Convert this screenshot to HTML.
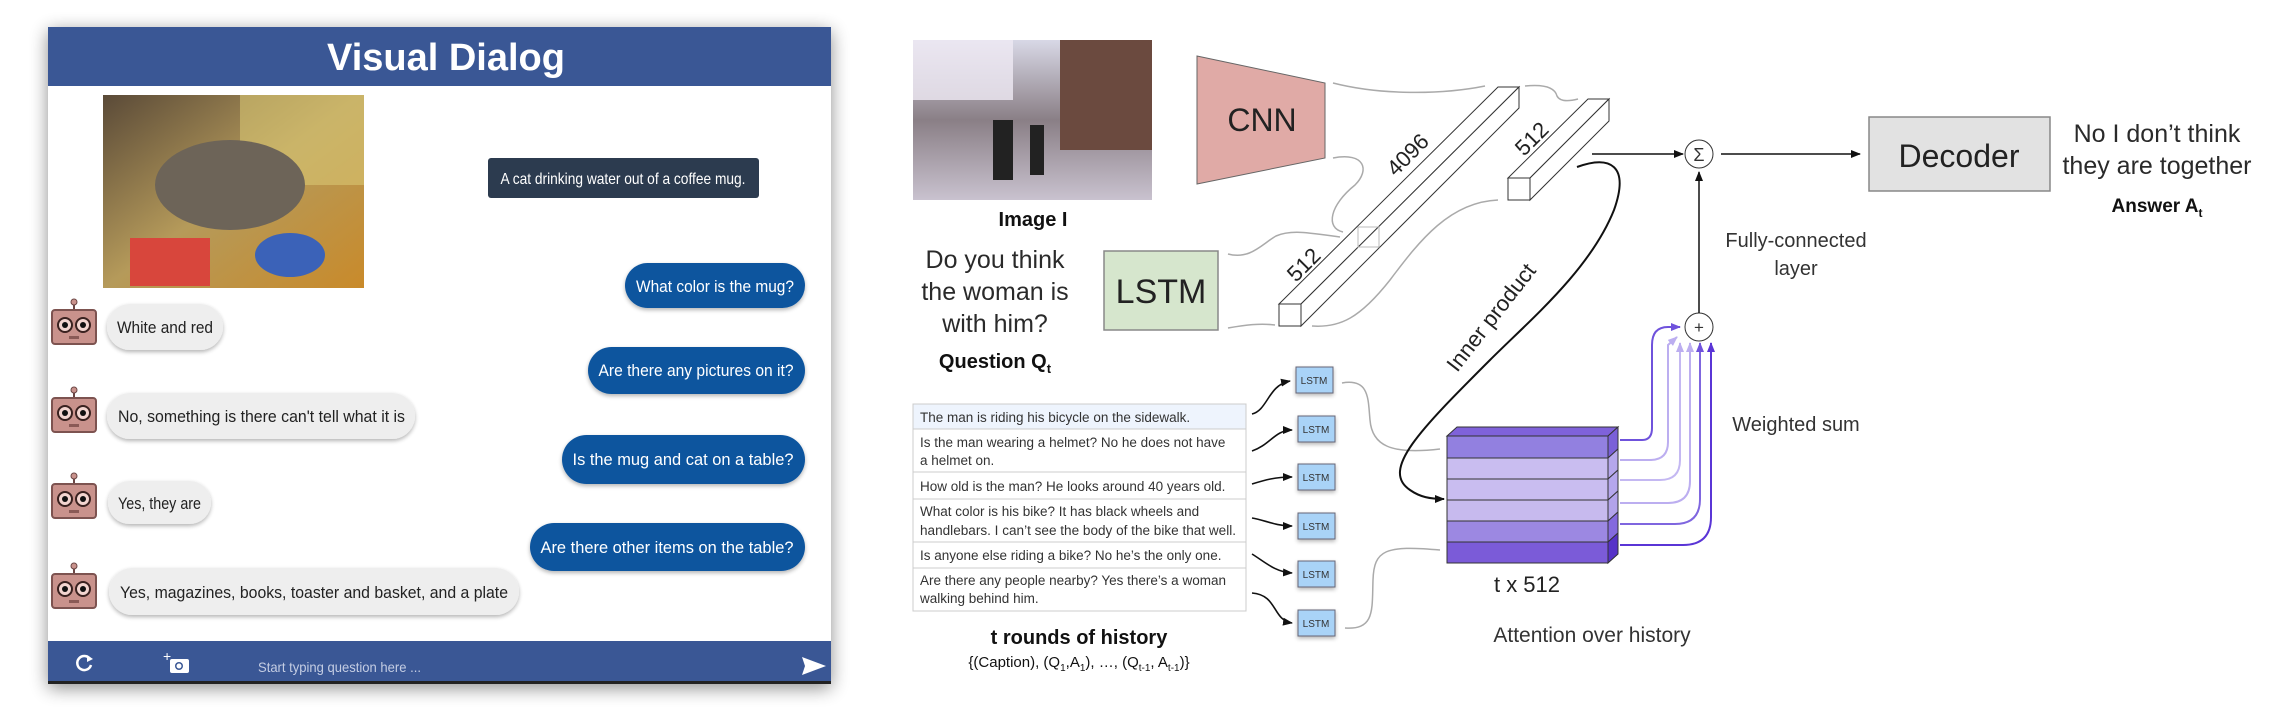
<!DOCTYPE html>
<html><head><meta charset="utf-8"><style>
html,body{margin:0;padding:0;background:#fff;}
svg{display:block;font-family:"Liberation Sans",sans-serif;}
</style></head><body>
<svg width="2272" height="716" viewBox="0 0 2272 716" xmlns="http://www.w3.org/2000/svg">
<defs>
<filter id="sh" x="-10%" y="-10%" width="120%" height="120%"><feGaussianBlur in="SourceAlpha" stdDeviation="9"/><feOffset dy="4"/><feComponentTransfer><feFuncA type="linear" slope="0.45"/></feComponentTransfer><feMerge><feMergeNode/><feMergeNode in="SourceGraphic"/></feMerge></filter>
<filter id="bs" x="-10%" y="-20%" width="120%" height="150%"><feGaussianBlur in="SourceAlpha" stdDeviation="2"/><feOffset dy="2"/><feComponentTransfer><feFuncA type="linear" slope="0.3"/></feComponentTransfer><feMerge><feMergeNode/><feMergeNode in="SourceGraphic"/></feMerge></filter>
<marker id="ab" markerWidth="10" markerHeight="8" refX="9" refY="4" orient="auto" markerUnits="userSpaceOnUse"><path d="M0,0 L10,4 L0,8 z" fill="#111"/></marker>
<marker id="p1" markerWidth="10" markerHeight="8" refX="9" refY="4" orient="auto" markerUnits="userSpaceOnUse"><path d="M0,0 L10,4 L0,8 z" fill="#6f52dc"/></marker>
<marker id="p2" markerWidth="10" markerHeight="8" refX="9" refY="4" orient="auto" markerUnits="userSpaceOnUse"><path d="M0,0 L10,4 L0,8 z" fill="#bcaef0"/></marker>
<marker id="p3" markerWidth="10" markerHeight="8" refX="9" refY="4" orient="auto" markerUnits="userSpaceOnUse"><path d="M0,0 L10,4 L0,8 z" fill="#5a35d6"/></marker>
<linearGradient id="cat" x1="0" y1="0" x2="1" y2="1"><stop offset="0" stop-color="#5a4a38"/><stop offset="0.5" stop-color="#b59a5a"/><stop offset="1" stop-color="#c98a2a"/></linearGradient>
<linearGradient id="st" x1="0" y1="0" x2="0" y2="1"><stop offset="0" stop-color="#d8d8e6"/><stop offset="0.5" stop-color="#8a7f86"/><stop offset="1" stop-color="#c9c2cf"/></linearGradient>
<g id="robot"><line x1="75" y1="-14" x2="75" y2="-8" stroke="#6b4745" stroke-width="2"/><circle cx="75" cy="-16" r="3" fill="#c9928c" stroke="#6b4745"/><rect x="53" y="-8" width="44" height="34" rx="3" fill="#c9928c" stroke="#7d5350" stroke-width="2"/><circle cx="66" cy="7" r="7" fill="#f3d5d0" stroke="#3a2220" stroke-width="2"/><circle cx="66" cy="7" r="3" fill="#111"/><circle cx="84" cy="7" r="7" fill="#f3d5d0" stroke="#3a2220" stroke-width="2"/><circle cx="84" cy="7" r="3" fill="#111"/><rect x="70" y="18" width="10" height="3" fill="#8a5a56"/></g>
</defs>

<!-- LEFT PANEL -->
<g filter="url(#sh)"><rect x="48" y="27" width="783" height="657" fill="#fff"/></g>
<rect x="48" y="27" width="783" height="59" fill="#3a5795"/>
<text x="446" y="70" font-size="38" font-weight="bold" fill="#fff" text-anchor="middle">Visual Dialog</text>
<rect x="103" y="95" width="261" height="193" fill="url(#cat)"/>
<rect x="240" y="95" width="124" height="90" fill="#d9c773" opacity="0.6"/>
<ellipse cx="230" cy="185" rx="75" ry="45" fill="#6d6458"/>
<ellipse cx="290" cy="255" rx="35" ry="22" fill="#3b62b8"/>
<rect x="130" y="238" width="80" height="48" fill="#d8463c"/>
<rect x="488" y="158" width="271" height="40" rx="3" fill="#2c3b4f"/>
<text x="623" y="184" font-size="16" fill="#fff" text-anchor="middle" textLength="245" lengthAdjust="spacingAndGlyphs">A cat drinking water out of a coffee mug.</text>
<g fill="#0b549e" filter="url(#bs)">
<rect x="625" y="263" width="180" height="45" rx="22.5"/>
<rect x="588" y="347" width="217" height="47" rx="23.5"/>
<rect x="562" y="435" width="243" height="49" rx="24.5"/>
<rect x="530" y="523" width="275" height="48" rx="24"/>
</g>
<g fill="#fff" font-size="17" text-anchor="middle">
<text x="715" y="292" textLength="158" lengthAdjust="spacingAndGlyphs">What color is the mug?</text>
<text x="696" y="376" textLength="195" lengthAdjust="spacingAndGlyphs">Are there any pictures on it?</text>
<text x="683" y="465" textLength="221" lengthAdjust="spacingAndGlyphs">Is the mug and cat on a table?</text>
<text x="667" y="553" textLength="253" lengthAdjust="spacingAndGlyphs">Are there other items on the table?</text>
</g>
<g fill="#eeeeee" filter="url(#bs)">
<rect x="107" y="304" width="116" height="46" rx="23"/>
<rect x="107" y="393" width="308" height="46" rx="23"/>
<rect x="108" y="481" width="103" height="43" rx="21.5"/>
<rect x="109" y="568" width="410" height="47" rx="23.5"/>
</g>
<g fill="#222" font-size="17">
<text x="117" y="333" textLength="96" lengthAdjust="spacingAndGlyphs">White and red</text>
<text x="118" y="422" textLength="287" lengthAdjust="spacingAndGlyphs">No, something is there can't tell what it is</text>
<text x="118" y="509" textLength="83" lengthAdjust="spacingAndGlyphs">Yes, they are</text>
<text x="120" y="598" textLength="388" lengthAdjust="spacingAndGlyphs">Yes, magazines, books, toaster and basket, and a plate</text>
</g>
<use href="#robot" transform="translate(-1,318)"/>
<use href="#robot" transform="translate(-1,406)"/>
<use href="#robot" transform="translate(-1,492)"/>
<use href="#robot" transform="translate(-1,582)"/>
<rect x="48" y="641" width="783" height="42" fill="#3a5795"/>
<rect x="48" y="681" width="783" height="3" fill="#222"/>
<path d="M90,659 A7,7 0 1 0 91,665" fill="none" stroke="#fff" stroke-width="2.5"/><path d="M87,655 L93,659 L87,662 z" fill="#fff"/>
<rect x="170" y="659" width="19" height="14" rx="2" fill="#fff"/><circle cx="179" cy="666" r="4" fill="#3a5795"/><circle cx="179" cy="666" r="2.5" fill="#fff"/><text x="163" y="661" fill="#fff" font-size="14">+</text>
<text x="258" y="672" font-size="14" fill="#c4cde3" textLength="163" lengthAdjust="spacingAndGlyphs">Start typing question here ...</text>
<path d="M802,657 L826,666 L802,675 L805,666 z" fill="#fff"/>

<!-- RIGHT DIAGRAM -->
<rect x="913" y="40" width="239" height="160" fill="url(#st)"/>
<rect x="1060" y="40" width="92" height="110" fill="#6b4a3f"/>
<rect x="913" y="40" width="100" height="60" fill="#efeaf4" opacity="0.8"/>
<rect x="993" y="120" width="20" height="60" fill="#222"/>
<rect x="1030" y="125" width="14" height="50" fill="#222"/>
<text x="1033" y="226" font-size="20" font-weight="bold" text-anchor="middle" fill="#111">Image I</text>
<g font-size="25" fill="#2a2a2a" text-anchor="middle">
<text x="995" y="268">Do you think</text>
<text x="995" y="300">the woman is</text>
<text x="995" y="332">with him?</text>
</g>
<text x="995" y="368" font-size="20" font-weight="bold" text-anchor="middle" fill="#111">Question Q<tspan font-size="13" dy="5">t</tspan></text>

<polygon points="1197,56 1325,83 1325,158 1197,184" fill="#e0aaa6" stroke="#666" stroke-width="1"/>
<text x="1262" y="131" font-size="32" text-anchor="middle" fill="#222">CNN</text>
<rect x="1104" y="251" width="114" height="79" fill="#d6e6cd" stroke="#888" stroke-width="1.5"/>
<text x="1161" y="303" font-size="34" text-anchor="middle" fill="#222">LSTM</text>

<g fill="none" stroke="#aaa" stroke-width="1.5">
<path d="M1333,83 C1380,95 1440,95 1485,86"/>
<path d="M1525,86 C1545,84 1555,88 1557,96 C1560,102 1570,101 1578,99"/>
<path d="M1333,158 C1365,152 1370,170 1355,185 C1330,205 1325,228 1343,232"/>
<path d="M1228,254 C1250,260 1262,244 1276,236 C1290,230 1305,232 1340,237"/>
<path d="M1228,328 C1245,325 1260,323 1275,325"/>
<path d="M1312,326 C1340,328 1360,318 1390,280 C1420,240 1450,202 1498,200"/>
<path d="M1342,383 C1370,378 1368,400 1370,420 C1372,445 1390,455 1440,449"/>
<path d="M1345,628 C1375,630 1372,610 1373,580 C1374,550 1385,545 1440,550"/>
</g>

<g fill="#fff" stroke="#333" stroke-width="1">
<polygon points="1279,304 1301,304 1519,87 1498,87"/>
<polygon points="1301,304 1301,326 1519,108 1519,87"/>
<rect x="1279" y="304" width="22" height="22"/>
<polygon points="1508,178 1530,178 1609,99 1588,99"/>
<polygon points="1530,178 1530,200 1609,121 1609,99"/>
<rect x="1508" y="178" width="22" height="22"/>
</g>
<rect x="1358" y="227" width="21" height="20" fill="none" stroke="#bbb" stroke-width="1"/>
<g font-size="22" fill="#222" text-anchor="middle">
<text transform="translate(1413,160) rotate(-45)">4096</text>
<text transform="translate(1309,270) rotate(-45)">512</text>
<text transform="translate(1537,144) rotate(-45)">512</text>
<text transform="translate(1497,322) rotate(-52)">Inner product</text>
</g>

<path d="M1592,154 L1683,154" stroke="#111" stroke-width="1.5" fill="none" marker-end="url(#ab)"/>
<path d="M1577,167 C1610,155 1630,165 1614,210 C1590,270 1530,320 1490,360 C1420,430 1380,470 1410,490 C1420,497 1430,499 1444,499" stroke="#111" stroke-width="2" fill="none" marker-end="url(#ab)"/>
<circle cx="1699" cy="154" r="14" fill="#fff" stroke="#333" stroke-width="1"/>
<text x="1699" y="161" font-size="18" text-anchor="middle" fill="#333">Σ</text>
<circle cx="1699" cy="327" r="14" fill="#fff" stroke="#333" stroke-width="1"/>
<text x="1699" y="333" font-size="17" text-anchor="middle" fill="#333">+</text>
<path d="M1699,313 L1699,172" stroke="#111" stroke-width="1.5" fill="none" marker-end="url(#ab)"/>
<path d="M1721,154 L1860,154" stroke="#111" stroke-width="1.5" fill="none" marker-end="url(#ab)"/>
<rect x="1869" y="117" width="181" height="74" fill="#e2e2e2" stroke="#888" stroke-width="1.5"/>
<text x="1959" y="167" font-size="32" text-anchor="middle" fill="#222">Decoder</text>
<g font-size="25" fill="#2a2a2a" text-anchor="middle">
<text x="2157" y="142">No I don’t think</text>
<text x="2157" y="174">they are together</text>
</g>
<text x="2157" y="212" font-size="19" font-weight="bold" text-anchor="middle" fill="#111">Answer A<tspan font-size="12" dy="5">t</tspan></text>
<g font-size="20" fill="#333" text-anchor="middle">
<text x="1796" y="247">Fully-connected</text>
<text x="1796" y="275">layer</text>
<text x="1796" y="431">Weighted sum</text>
</g>

<rect x="913" y="404" width="333" height="207" fill="#fff" stroke="#ccc"/>
<rect x="913" y="404" width="333" height="25" fill="#eef4fd" stroke="#ccc"/>
<g stroke="#ccc"><line x1="913" y1="472" x2="1246" y2="472"/><line x1="913" y1="499" x2="1246" y2="499"/><line x1="913" y1="542" x2="1246" y2="542"/><line x1="913" y1="568" x2="1246" y2="568"/></g>
<g font-size="13.5" fill="#333">
<text x="920" y="422">The man is riding his bicycle on the sidewalk.</text>
<text x="920" y="447">Is the man wearing a helmet? No he does not have</text>
<text x="920" y="465">a helmet on.</text>
<text x="920" y="491">How old is the man? He looks around 40 years old.</text>
<text x="920" y="516">What color is his bike? It has black wheels and</text>
<text x="920" y="535" textLength="316" lengthAdjust="spacingAndGlyphs">handlebars. I can’t see the body of the bike that well.</text>
<text x="920" y="560">Is anyone else riding a bike? No he’s the only one.</text>
<text x="920" y="585">Are there any people nearby? Yes there’s a woman</text>
<text x="920" y="603">walking behind him.</text>
</g>
<text x="1079" y="644" font-size="20" font-weight="bold" text-anchor="middle" fill="#111">t rounds of history</text>
<text x="1079" y="667" font-size="15" text-anchor="middle" fill="#111">{(Caption), (Q<tspan font-size="10" dy="4">1</tspan><tspan dy="-4">,A</tspan><tspan font-size="10" dy="4">1</tspan><tspan dy="-4">), …, (Q</tspan><tspan font-size="10" dy="4">t-1</tspan><tspan dy="-4">, A</tspan><tspan font-size="10" dy="4">t-1</tspan><tspan dy="-4">)}</tspan></text>

<g fill="#a9d3f7" stroke="#667" stroke-width="1" filter="url(#bs)">
<rect x="1296" y="367" width="37" height="26"/>
<rect x="1298" y="416" width="37" height="26"/>
<rect x="1298" y="464" width="37" height="26"/>
<rect x="1298" y="513" width="37" height="26"/>
<rect x="1298" y="561" width="37" height="26"/>
<rect x="1298" y="610" width="37" height="26"/>
</g>
<g font-size="10" fill="#333" text-anchor="middle">
<text x="1314" y="384">LSTM</text><text x="1316" y="433">LSTM</text><text x="1316" y="481">LSTM</text><text x="1316" y="530">LSTM</text><text x="1316" y="578">LSTM</text><text x="1316" y="627">LSTM</text>
</g>
<g stroke="#111" stroke-width="1.6" fill="none">
<path d="M1252,414 C1268,410 1268,385 1290,381" marker-end="url(#ab)"/>
<path d="M1252,451 C1270,445 1275,430 1292,430" marker-end="url(#ab)"/>
<path d="M1252,484 C1265,480 1275,477 1292,477" marker-end="url(#ab)"/>
<path d="M1252,518 C1265,520 1275,526 1292,526" marker-end="url(#ab)"/>
<path d="M1252,554 C1265,562 1275,572 1292,573" marker-end="url(#ab)"/>
<path d="M1252,593 C1278,595 1272,620 1292,623" marker-end="url(#ab)"/>
</g>

<polygon points="1447,436 1457,427 1618,427 1608,436" fill="#7f62da" stroke="#333" stroke-width="1"/>
<g stroke="#333" stroke-width="1">
<rect x="1447" y="436" width="161" height="22" fill="#9280e0"/>
<rect x="1447" y="458" width="161" height="21" fill="#c9bdf0"/>
<rect x="1447" y="479" width="161" height="21" fill="#c9bdf0"/>
<rect x="1447" y="500" width="161" height="21" fill="#c7baee"/>
<rect x="1447" y="521" width="161" height="21" fill="#9c88e2"/>
<rect x="1447" y="542" width="161" height="21" fill="#7b5bd8"/>
<polygon points="1608,436 1618,427 1618,449 1608,458" fill="#7a60d8"/>
<polygon points="1608,458 1618,449 1618,470 1608,479" fill="#b5a7ec"/>
<polygon points="1608,479 1618,470 1618,491 1608,500" fill="#b5a7ec"/>
<polygon points="1608,500 1618,491 1618,512 1608,521" fill="#b2a3ea"/>
<polygon points="1608,521 1618,512 1618,533 1608,542" fill="#846ade"/>
<polygon points="1608,542 1618,533 1618,554 1608,563" fill="#5632c8"/>
</g>
<text x="1527" y="592" font-size="22" text-anchor="middle" fill="#222">t x 512</text>
<text x="1592" y="642" font-size="21" text-anchor="middle" fill="#333">Attention over history</text>

<g fill="none" stroke-width="2">
<path d="M1620,440 L1642,440 Q1652,440 1652,428 L1652,345 Q1652,327 1668,327 L1680,327" stroke="#6f52dc" marker-end="url(#p1)"/>
<path d="M1620,460 L1650,460 Q1668,460 1668,442 L1668,345 L1677,337" stroke="#bcaef0" marker-end="url(#p2)"/>
<path d="M1620,480 L1660,480 Q1680,480 1680,460 L1680,343" stroke="#c4b8f2" marker-end="url(#p2)"/>
<path d="M1620,503 L1668,503 Q1690,503 1690,481 L1690,343" stroke="#bcaef0" marker-end="url(#p2)"/>
<path d="M1620,524 L1675,524 Q1700,524 1700,499 L1700,343" stroke="#7f66df" marker-end="url(#p1)"/>
<path d="M1620,545 L1683,545 Q1711,545 1711,517 L1711,343" stroke="#5a35d6" marker-end="url(#p3)"/>
</g>
</svg>
</body></html>
